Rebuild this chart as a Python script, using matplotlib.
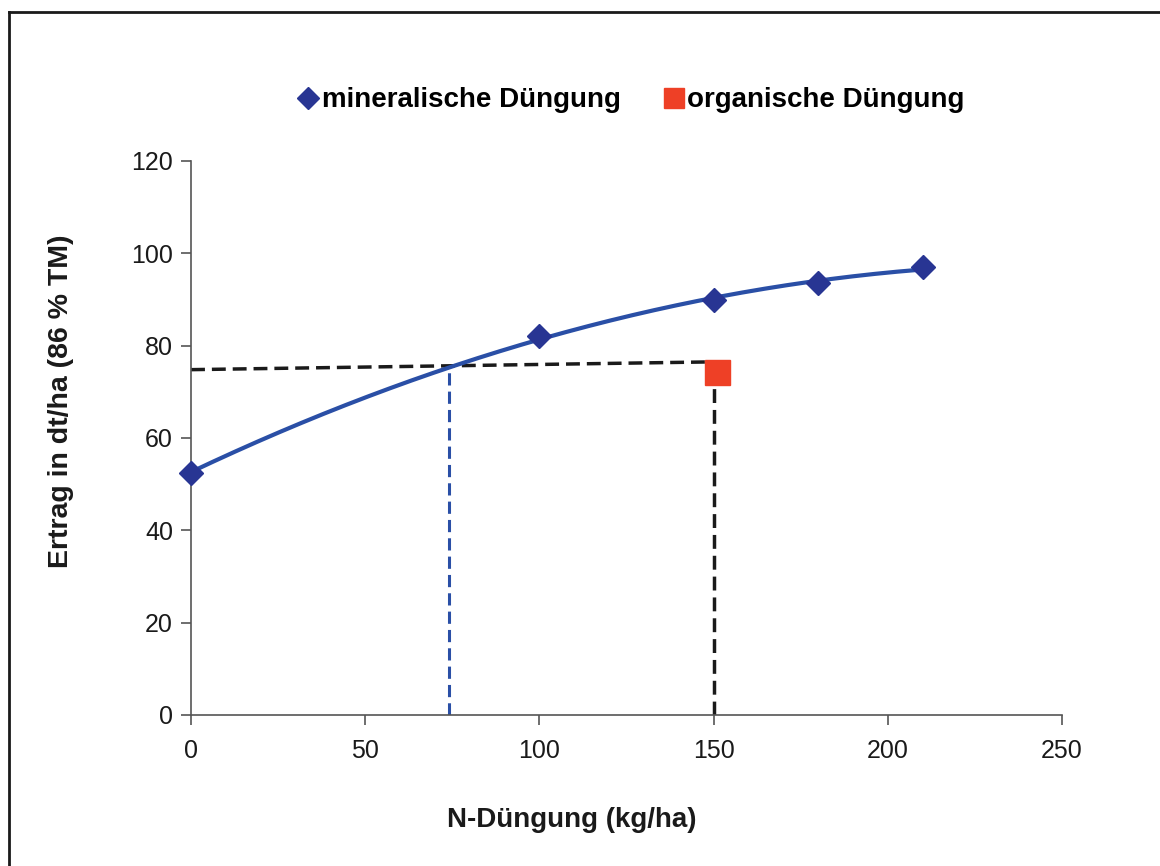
import matplotlib

matplotlib.use("Agg")

import matplotlib.pyplot as plt
import numpy as np
from matplotlib.lines import Line2D

plt.rcParams["font.family"] = ["Liberation Sans", "DejaVu Sans"]

# Messwerte
n_mineral = [0, 100, 150, 180, 210]
ertrag_mineral = [52.5, 82.0, 89.9, 93.5, 97.0]
n_organisch = [151]
ertrag_organisch = [74.3]

# Hilfslinien (Mineraläquivalent)
h_line_x = [0, 151]
h_line_y = [74.8, 76.5]
blue_x = 74
black_x = 150

x_ticks = [0, 50, 100, 150, 200, 250]
y_ticks = [0, 20, 40, 60, 80, 100, 120]

fig = plt.figure(figsize=(11.6, 8.66), dpi=100)
ax = fig.add_axes([0.1647, 0.1744, 0.7508, 0.6397])

# polynomische Trendlinie (2. Ordnung)
coef = np.polyfit(n_mineral, ertrag_mineral, 2)
xs = np.linspace(0, 210, 200)
ax.plot(xs, np.polyval(coef, xs), color="#2a4fa6", linewidth=3, zorder=3)

ax.plot(h_line_x, h_line_y, color="#1a1a1a", linestyle=(0, (4, 2)), linewidth=2.5, zorder=2)
ax.plot([black_x, black_x], [0, h_line_y[1]], color="#1a1a1a", linestyle=(0, (4, 2)),
        linewidth=2.5, zorder=2)
ax.plot([blue_x, blue_x], [0, np.polyval(coef, blue_x)], color="#2a4fa6",
        linestyle=(0, (4, 2)), linewidth=2.2, zorder=2)

ax.plot(n_mineral, ertrag_mineral, linestyle="none", marker="D", markersize=12,
        color="#283593", zorder=4, clip_on=False)
ax.plot(n_organisch, ertrag_organisch, linestyle="none", marker="s", markersize=18,
        color="#ee4026", zorder=4)

ax.set_xlim(0, 250)
ax.set_ylim(0, 120)
ax.set_xticks(x_ticks)
ax.set_yticks(y_ticks)
for side in ["top", "right"]:
    ax.spines[side].set_visible(False)
for side in ["left", "bottom"]:
    ax.spines[side].set_color("#555555")
    ax.spines[side].set_linewidth(1.2)
ax.tick_params(colors="#555555", labelcolor="#1a1a1a", labelsize=18, length=7, width=1.2, pad=6)
ax.tick_params(axis="x", pad=10)

ax.set_xlabel("N-Düngung (kg/ha)", fontsize=20, fontweight="bold", color="#1a1a1a")
ax.set_ylabel("Ertrag in dt/ha (86 % TM)", fontsize=20.5, fontweight="bold", color="#1a1a1a")
ax.xaxis.set_label_coords(0.437, -0.166)
ax.yaxis.set_label_coords(-0.134, 0.567)

handles = [
    Line2D([], [], linestyle="none", marker="D", markersize=11, color="#283593"),
    Line2D([], [], linestyle="none", marker="s", markersize=15, color="#ee4026"),
]
fig.legend(handles, ["mineralische Düngung", "organische Düngung"], loc="center",
           bbox_to_anchor=(0.545, 0.884), ncol=2, frameon=False, handlelength=0.6,
           handletextpad=0.2, columnspacing=1.6, prop={"size": 20, "weight": "bold"})

# Rahmen
fig.add_artist(Line2D([0.008, 0.008], [0, 0.986], color="#1a1a1a", linewidth=2))
fig.add_artist(Line2D([0.008, 1.0], [0.986, 0.986], color="#1a1a1a", linewidth=2))

fig.savefig("out.png", dpi=100)
